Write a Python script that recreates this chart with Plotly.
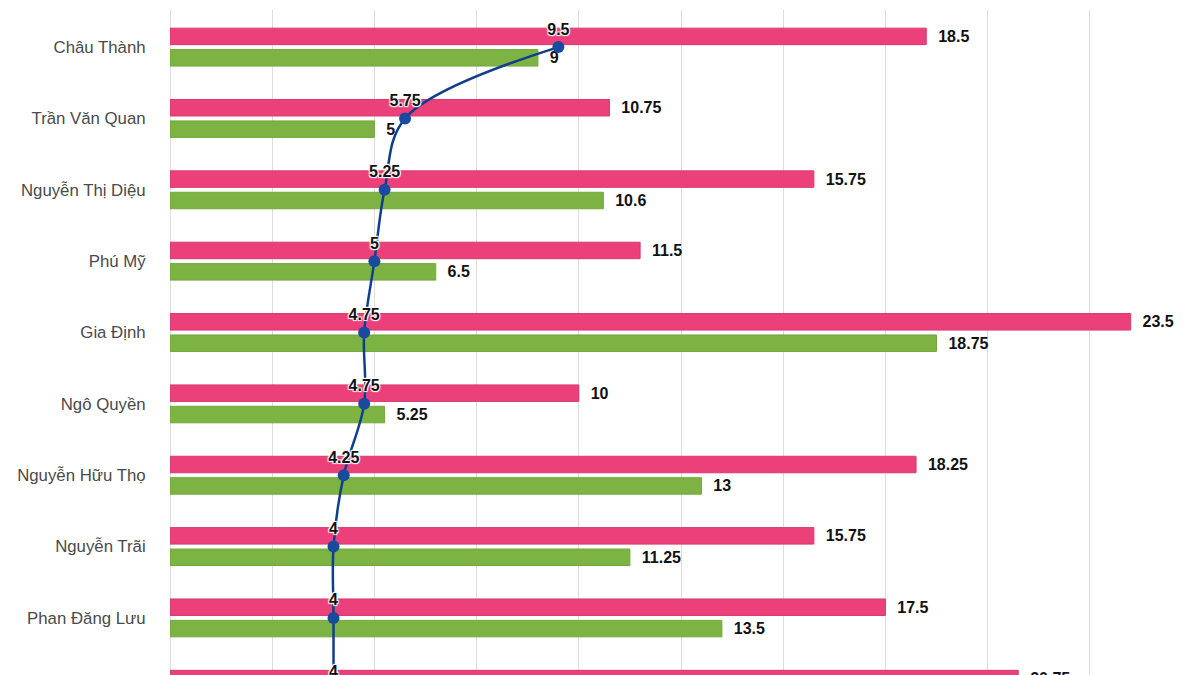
import plotly.graph_objects as go

categories = ["Châu Thành", "Trần Văn Quan", "Nguyễn Thị Diệu", "Phú Mỹ", "Gia Định",
              "Ngô Quyền", "Nguyễn Hữu Thọ", "Nguyễn Trãi", "Phan Đăng Lưu"]
pink_values = [18.5, 10.75, 15.75, 11.5, 23.5, 10, 18.25, 15.75, 17.5, 20.75]
green_values = [9, 5, 10.6, 6.5, 18.75, 5.25, 13, 11.25, 13.5, None]
line_values = [9.5, 5.75, 5.25, 5, 4.75, 4.75, 4.25, 4, 4, 4]

rows = list(range(len(pink_values)))

PINK = "#EC407A"
GREEN = "#7CB342"
NAVY = "#0F3F8C"

label_font = dict(family="Liberation Sans, Arial, sans-serif", size=16, color="#111111", weight="bold")

fig = go.Figure()
fig.add_trace(go.Bar(
    y=rows, x=pink_values, orientation="h", name="pink",
    marker=dict(color=PINK, line=dict(color="#D63A6E", width=1)),
    texttemplate="\u00a0\u00a0%{x}", textposition="outside",
    constraintext="none", cliponaxis=True, textfont=label_font,
))
fig.add_trace(go.Bar(
    y=rows, x=green_values, orientation="h", name="green",
    marker=dict(color=GREEN, line=dict(color="#72A83B", width=1)),
    texttemplate="\u00a0\u00a0%{x}", textposition="outside",
    constraintext="none", cliponaxis=True, textfont=label_font,
))
fig.add_trace(go.Scatter(
    y=rows, x=line_values, mode="lines+markers+text", name="line",
    line=dict(color=NAVY, width=2.5, shape="spline", smoothing=1),
    marker=dict(color="#1A4A9E", size=12),
    text=line_values, textposition="top center",
    textfont=dict(family="Liberation Sans, Arial, sans-serif", size=16, color="#111111", weight="bold",
                  shadow="1px 1px 1px #fff, -1px -1px 1px #fff, 1px -1px 1px #fff, -1px 1px 1px #fff"),
))

fig.update_layout(
    width=1200, height=675,
    margin=dict(l=170, r=8, t=10, b=0),
    barmode="group", bargap=0.4, bargroupgap=0.23,
    plot_bgcolor="white", paper_bgcolor="white",
    showlegend=False,
    font=dict(family="Liberation Sans, Arial, sans-serif"),
)
fig.update_xaxes(range=[0, 25], dtick=2.5, showgrid=True, gridcolor="#DDDDDD", gridwidth=1,
                 zeroline=True, zerolinecolor="#DDDDDD", zerolinewidth=1, showticklabels=False)
fig.update_yaxes(range=[8.8, -0.52], tickmode="array", tickvals=list(range(len(categories))),
                 ticktext=categories, showgrid=False, zeroline=False,
                 ticks="outside", ticklen=20, tickcolor="rgba(0,0,0,0)",
                 tickfont=dict(size=16.8, color="#4A4A4A"))

fig.write_html("out.html")
